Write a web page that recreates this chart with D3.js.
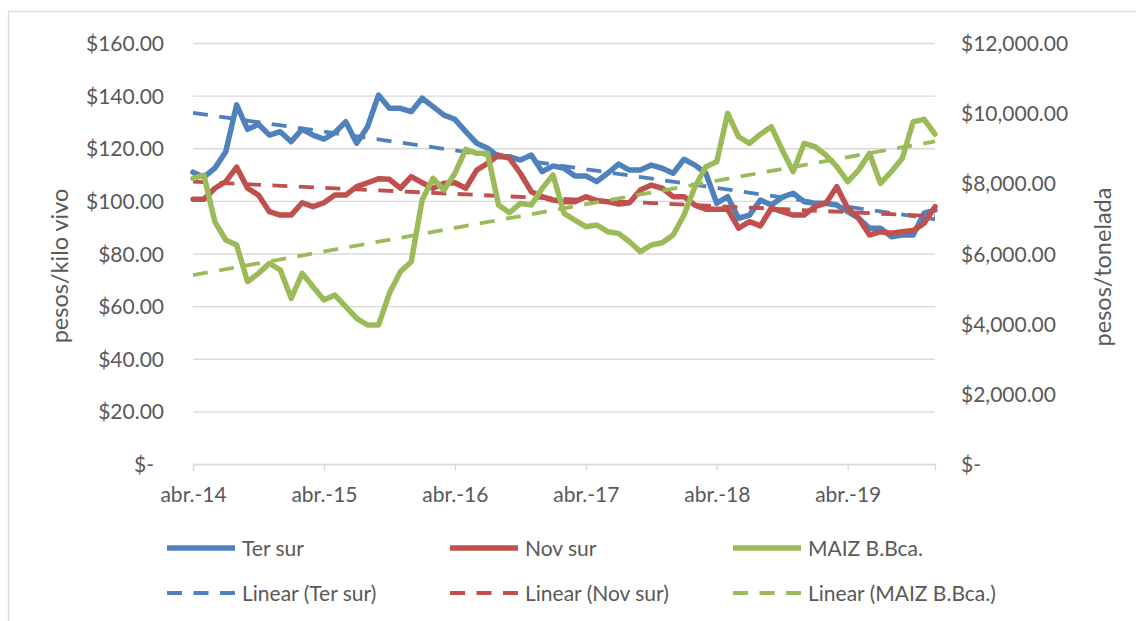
<!DOCTYPE html>
<html>
<head>
<meta charset="utf-8">
<title>Ter sur / Nov sur / MAIZ</title>
<script src="https://cdn.jsdelivr.net/npm/d3@7"></script>
<style>
 body { margin: 0; background: #fff; }
 text { font-family: Lato, "Open Sans", sans-serif; fill: #595959; }
 .tick text { font-size: 21px; }
 .axis-title { font-size: 23.5px; }
 .legend text { font-size: 21px; }
 .grid line { stroke: #d9d9d9; stroke-width: 1.3; }
 .grid path { display: none; }
 .series { fill: none; stroke-linejoin: round; stroke-linecap: round; stroke-width: 5.5; }
 .trend { fill: none; stroke-width: 3.8; stroke-dasharray: 15 11.5; }
</style>
</head>
<body>
<div id="chart"></div>
<script>
// monthly prices, abr.-14 .. dic.-19
var terSur = [110.9, 109.0, 112.4, 118.7, 136.5, 127.2, 129.1, 125.0, 126.3, 122.5, 127.2, 125.0,
  123.5, 125.9, 130.1, 121.9, 128.2, 140.2, 135.2, 135.2, 133.9, 139.0, 135.8, 132.6,
  131.0, 126.3, 121.9, 120.0, 116.8, 116.8, 115.5, 117.4, 111.1, 113.3, 112.4, 109.5,
  109.5, 107.3, 110.5, 114.0, 111.7, 111.7, 113.6, 112.4, 110.5, 115.8, 113.6, 110.5,
  99.1, 101.6, 93.4, 94.6, 100.3, 98.4, 101.4, 102.9, 99.7, 99.1, 99.1, 98.4,
  95.9, 93.4, 89.6, 89.6, 86.4, 87.0, 87.0, 95.3, 96.5];
var novSur = [100.6, 100.6, 104.8, 107.3, 112.8, 104.8, 102.2, 95.9, 94.6, 94.6, 99.3, 97.8,
  99.3, 102.2, 102.2, 105.4, 106.9, 108.4, 108.2, 104.8, 109.2, 106.9, 104.8, 106.7,
  106.9, 104.8, 111.7, 114.3, 117.4, 116.2, 110.5, 103.5, 101.6, 100.3, 99.7, 99.7,
  101.6, 100.1, 99.7, 98.8, 99.3, 104.1, 106.0, 104.8, 101.6, 101.6, 98.4, 96.8,
  96.8, 96.8, 89.6, 92.1, 90.5, 97.2, 95.9, 94.6, 94.6, 97.8, 99.1, 105.4,
  97.2, 93.4, 87.0, 88.3, 87.7, 88.3, 88.7, 91.5, 97.8];
var maiz = [8142, 8237, 6906, 6384, 6242, 5196, 5434, 5719, 5529, 4722, 5434, 5054,
  4674, 4817, 4484, 4151, 3962, 3962, 4864, 5481, 5766, 7524, 8142, 7809,
  8284, 8968, 8854, 8854, 7382, 7163, 7429, 7382, 7856, 8237, 7144, 6954,
  6764, 6812, 6621, 6574, 6336, 6051, 6242, 6307, 6527, 7097, 7903, 8473,
  8616, 9995, 9328, 9139, 9400, 9614, 8949, 8331, 9139, 9044, 8807, 8473,
  8046, 8379, 8854, 8000, 8331, 8712, 9756, 9823, 9405];
var xTickLabels = ["abr.-14", "abr.-15", "abr.-16", "abr.-17", "abr.-18", "abr.-19"];
var leftTicks = [0, 20, 40, 60, 80, 100, 120, 140, 160];
var rightTicks = [0, 2000, 4000, 6000, 8000, 10000, 12000];
var seriesNames = ["Ter sur", "Nov sur", "MAIZ B.Bca."];
var colors = ["#4f81bd", "#c0504d", "#9bbb59"];

var W = 1136, H = 621;
var plot = {left: 193, right: 935, top: 43, bottom: 464};

var months = d3.timeMonth.range(new Date(2014, 3, 1), new Date(2020, 0, 1));

var x = d3.scaleLinear().domain([0, months.length - 1]).range([plot.left, plot.right]);
var yL = d3.scaleLinear().domain([0, 160]).range([plot.bottom, plot.top]);
var yR = d3.scaleLinear().domain([0, 12000]).range([plot.bottom, plot.top]);

var svg = d3.select("#chart").append("svg")
  .attr("width", W)
  .attr("height", H);

// chart border
svg.append("rect")
  .attr("x", 8.5).attr("y", 11.5)
  .attr("width", W).attr("height", H)
  .attr("fill", "none").attr("stroke", "#d9d9d9").attr("stroke-width", 1.3);

// gridlines
svg.append("g")
  .attr("class", "grid")
  .attr("transform", "translate(" + plot.left + ",0)")
  .call(d3.axisLeft(yL).tickValues(leftTicks).tickSize(-(plot.right - plot.left)).tickFormat(""));

// x axis ticks every 12 months
var xTickIdx = xTickLabels.map(function(d, i) { return i * 12; });
var xAxis = svg.append("g")
  .attr("transform", "translate(0," + plot.bottom + ")")
  .call(d3.axisBottom(x).tickValues(xTickIdx).tickSize(7).tickPadding(16)
    .tickFormat(function(d, i) { return xTickLabels[i]; }));
xAxis.select(".domain").attr("stroke", "#d9d9d9").attr("stroke-width", 1.3);
xAxis.selectAll(".tick line").attr("stroke", "#d9d9d9").attr("stroke-width", 1.3);

var fmtL = d3.format("$,.2f");

var leftAxis = svg.append("g")
  .attr("transform", "translate(" + (plot.left - 29) + ",0)")
  .call(d3.axisLeft(yL).tickValues(leftTicks).tickSize(0).tickPadding(0)
    .tickFormat(function(d) { return d === 0 ? "$-" : fmtL(d); }));
leftAxis.select(".domain").remove();
leftAxis.selectAll(".tick text").attr("dy", "0.36em")
  .attr("dx", function(d) { return d === 0 ? -10 : 0; });

var rightAxis = svg.append("g")
  .attr("transform", "translate(" + (plot.right + 26) + ",0)")
  .call(d3.axisRight(yR).tickValues(rightTicks).tickSize(0).tickPadding(0)
    .tickFormat(function(d) { return d === 0 ? "$-" : fmtL(d); }));
rightAxis.select(".domain").remove();
rightAxis.selectAll(".tick text").attr("dy", "0.36em");

// axis titles
svg.append("text")
  .attr("class", "axis-title")
  .attr("transform", "translate(68,266) rotate(-90)")
  .attr("text-anchor", "middle")
  .text("pesos/kilo vivo");

svg.append("text")
  .attr("class", "axis-title")
  .attr("transform", "translate(1111,267) rotate(-90)")
  .attr("text-anchor", "middle")
  .text("pesos/tonelada");

// least squares trend over month index, as Excel's linear trendline
function linFit(vals) {
  var n = vals.length, mx = (n - 1) / 2, my = d3.mean(vals);
  var sxy = 0, sxx = 0;
  vals.forEach(function(v, i) { sxy += (i - mx) * (v - my); sxx += (i - mx) * (i - mx); });
  var b = sxy / sxx;
  return function(i) { return my + b * (i - mx); };
}

var seriesData = [
  {vals: terSur, y: yL},
  {vals: novSur, y: yL},
  {vals: maiz, y: yR}
];

seriesData.forEach(function(s, k) {
  var line = d3.line()
    .x(function(d, i) { return x(i); })
    .y(function(d) { return s.y(d); });
  svg.append("path")
    .datum(s.vals)
    .attr("class", "series")
    .attr("stroke", colors[k])
    .attr("d", line);

  var f = linFit(s.vals);
  var ends = [0, s.vals.length - 1];
  svg.append("path")
    .datum(ends)
    .attr("class", "trend")
    .attr("stroke", colors[k])
    .attr("d", d3.line().x(function(i) { return x(i); }).y(function(i) { return s.y(f(i)); }));
});

// legend
var legendCols = [167, 450, 733];
var legendRows = [548, 593];
var legend = svg.append("g").attr("class", "legend");
seriesNames.forEach(function(name, k) {
  [0, 1].forEach(function(r) {
    var g = legend.append("g")
      .attr("transform", "translate(" + legendCols[k] + "," + legendRows[r] + ")");
    g.append("line")
      .attr("x1", 0).attr("x2", 68)
      .attr("stroke", colors[k])
      .attr("stroke-width", r === 0 ? 5.5 : 3.8)
      .attr("stroke-dasharray", r === 0 ? null : "15 11.5");
    g.append("text")
      .attr("x", 75)
      .attr("dy", "0.36em")
      .text(r === 0 ? name : "Linear (" + name + ")");
  });
});
</script>
</body>
</html>
